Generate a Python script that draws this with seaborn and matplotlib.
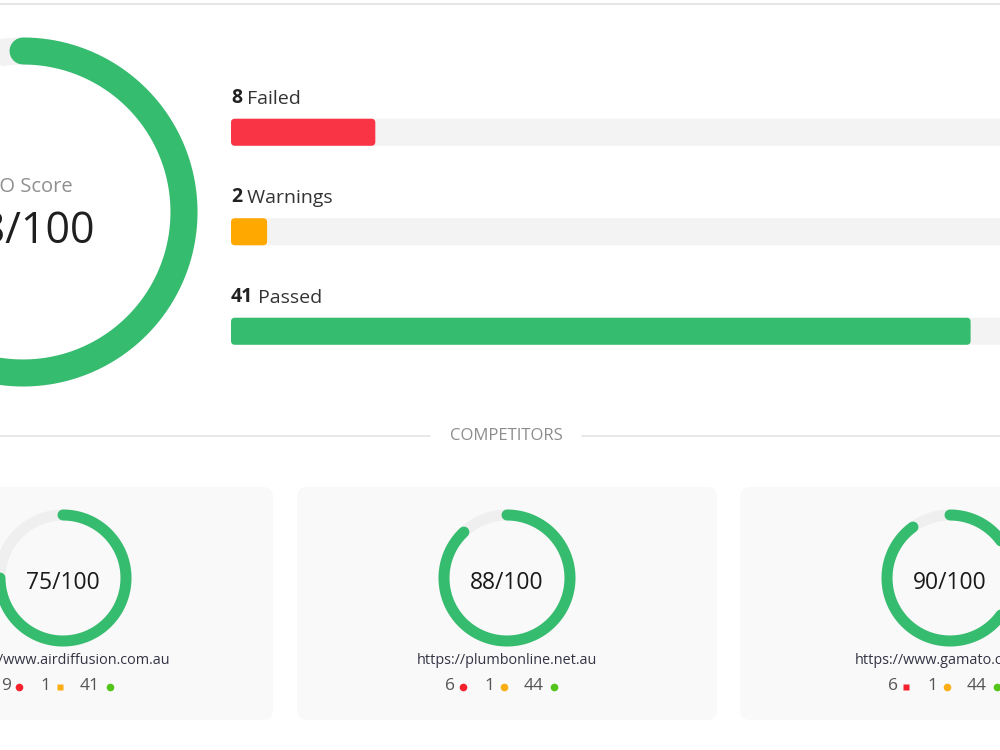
import numpy as np
import matplotlib
matplotlib.use("Agg")
import matplotlib.pyplot as plt
from matplotlib.patches import FancyBboxPatch
import seaborn as sns

# ---------------- data ----------------
main_score = 78
check_labels = ["Failed", "Warnings", "Passed"]
check_counts = [8, 2, 41]

comp_urls = ["https://www.airdiffusion.com.au", "https://plumbonline.net.au", "https://www.gamato.com.au"]
comp_scores = [75, 88, 90]
comp_failed = [9, 6, 6]
comp_warnings = [1, 1, 1]
comp_passed = [41, 44, 44]

# ---------------- style ----------------
sns.set_theme(style="white")
plt.rcParams["font.family"] = ["Open Sans", "DejaVu Sans"]

GREEN = "#35bc6e"
RED = "#f93444"
ORANGE = "#ffa800"
TRACK = "#f3f3f3"
check_colors = [RED, ORANGE, GREEN]
dot_colors = ["#f5222d", "#faad14", "#52c41a"]
comp_markers = [["o", "s", "o"], ["o", "o", "o"], ["s", "o", "o"]]

fig = plt.figure(figsize=(10, 7.5), dpi=100)
fig.patch.set_facecolor("white")

# background axes in pixel units
bg = fig.add_axes([0, 0, 1, 1])
bg.set_xlim(0, 1000)
bg.set_ylim(750, 0)
bg.axis("off")

PX = 0.72  # points per pixel at dpi 100

bg.axhline(4, color="#e6e6e6", lw=1.6)


def ring(ax, cx, cy, r, lw_px, score, track_color, color):
    th = np.linspace(0, 2 * np.pi, 500)
    ax.plot(cx + r * np.sin(th), cy - r * np.cos(th), color=track_color,
            lw=lw_px * PX, solid_capstyle="butt", zorder=3)
    th = np.linspace(0, 2 * np.pi * score / 100.0, 400)
    ax.plot(cx + r * np.sin(th), cy - r * np.cos(th), color=color,
            lw=lw_px * PX, solid_capstyle="round", zorder=4)


# main score ring
ring(bg, 23, 212, 161, 27, main_score, "#f2f2f2", GREEN)
bg.text(25, 187, "SEO Score", ha="center", va="center", fontsize=14.5, color="#8f8f8f")
bg.text(25, 232, f"{main_score}/100", ha="center", va="center", fontsize=31, color="#1f1f1f")

# ---------------- check bars (seaborn) ----------------
total = sum(check_counts)
bar_ax = fig.add_axes([231 / 1000, (750 - 381) / 750, 920 / 1000, 298.5 / 750])
sns.barplot(x=[total] * len(check_labels), y=check_labels, orient="h", color=TRACK,
            width=0.272, saturation=1, ax=bar_ax)
sns.barplot(x=check_counts, y=check_labels, hue=check_labels, palette=check_colors,
            orient="h", width=0.272, saturation=1, legend=False, ax=bar_ax)
bar_ax.set_xlim(0, total)
bar_ax.set_ylim(2.5, -0.5)
bar_ax.axis("off")

# round the bar corners
xu = total / 920.0
yu = 3 / 298.5
for p in list(bar_ax.patches):
    x, y, w, h = p.get_x(), p.get_y(), p.get_width(), p.get_height()
    fc = p.get_facecolor()
    p.remove()
    bar_ax.add_patch(FancyBboxPatch((x, y), w, h,
                                    boxstyle=f"round,pad=0,rounding_size={4 * xu}",
                                    mutation_aspect=yu / xu, facecolor=fc,
                                    edgecolor="none", clip_on=False))

for i, (lab, n) in enumerate(zip(check_labels, check_counts)):
    t = bar_ax.text(0, i - 0.295, str(n), ha="left", va="baseline", fontsize=14,
                    fontweight="bold", color="#222222")
    bar_ax.annotate(" " + lab, xy=(1, 0), xycoords=t, ha="left", va="bottom",
                    fontsize=14, color="#333333")

# ---------------- competitors ----------------
bg.plot([0, 430], [436, 436], color="#e4e4e4", lw=1.2)
bg.plot([582, 1000], [436, 436], color="#e4e4e4", lw=1.2)
bg.text(506, 436, "COMPETITORS", ha="center", va="center", fontsize=12, color="#8c8c8c")

card_cx = [63, 507, 950]
for k, cx in enumerate(card_cx):
    bg.add_patch(FancyBboxPatch((cx - 210, 487), 420, 233,
                                boxstyle="round,pad=0,rounding_size=10",
                                facecolor="#f9f9f9", edgecolor="none", zorder=1))
    ring(bg, cx, 578, 63, 11, comp_scores[k], "#efefef", GREEN)
    bg.text(cx, 583, f"{comp_scores[k]}/100", ha="center", va="center",
            fontsize=16.5, color="#1a1a1a", zorder=5)
    bg.text(cx, 661, comp_urls[k], ha="center", va="center", fontsize=10.4,
            color="#333344", zorder=5)
    counts = [comp_failed[k], comp_warnings[k], comp_passed[k]]
    num_off = [-52, -13, 37]
    mk_off = [-44, -3, 47]
    for j in range(3):
        bg.text(cx + num_off[j], 686, str(counts[j]), ha="right", va="center",
                fontsize=12.5, color="#555555", zorder=5)
        m = comp_markers[k][j]
        bg.plot(cx + mk_off[j], 687, marker=m, ms=5.5 if m == "o" else 5,
                color=dot_colors[j], mec="none", zorder=5)

fig.savefig("out.png", dpi=100, facecolor="white")
